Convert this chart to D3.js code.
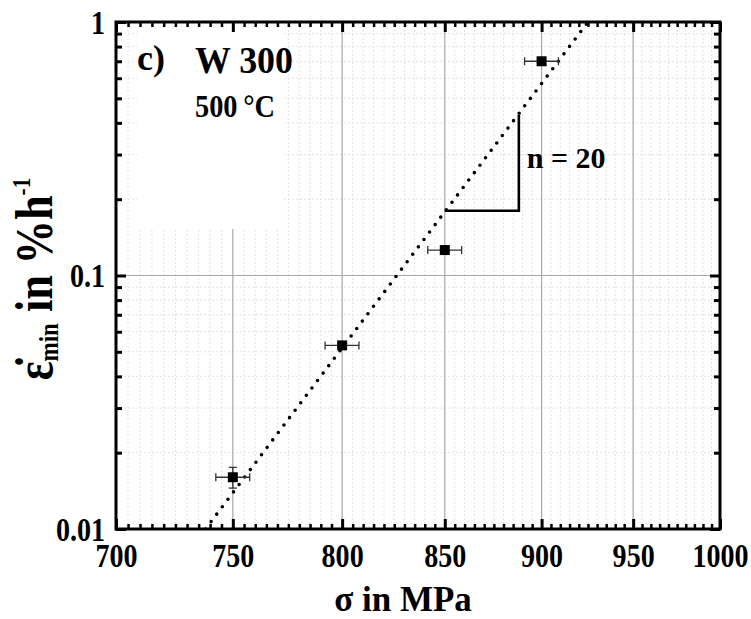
<!DOCTYPE html>
<html><head><meta charset="utf-8">
<script src="https://cdn.jsdelivr.net/npm/d3@7"></script>
<style>
body{margin:0;background:#fff}
text{font-family:"Liberation Serif","Times New Roman",serif;font-weight:bold;fill:#000}
</style>
</head><body>
<svg id="chart" width="751" height="619"></svg>
<script>
// ---- data ----
const stress = [750, 800, 850, 900];            // MPa
const rate = [0.016, 0.053, 0.126, 0.70];       // %/h
const stressErr = [7.5, 8, 8.5, 9];
const rateErr = [0.0015, 0.0015, 0.003, 0.015];
const fitStress = [738, 925];
const fitRate = [0.01, 1.0];
const slopeStress = [850, 888];
const slopeRate = [0.18, 0.43];
const xTicks = [700, 750, 800, 850, 900, 950, 1000];
const xTickLabels = ["700", "750", "800", "850", "900", "950", "1000"];
const yTicks = [0.01, 0.1, 1];
const yTickLabels = ["0.01", "0.1", "1"];
const xMinorTicks = [705,710,715,720,725,730,735,740,745,755,760,765,770,775,780,785,790,795,
  805,810,815,820,825,830,835,840,845,855,860,865,870,875,880,885,890,895,
  905,910,915,920,925,930,935,940,945,955,960,965,970,975,980,985,990,995];
const yMinorTicks = [0.02,0.03,0.04,0.05,0.06,0.07,0.08,0.09,0.2,0.3,0.4,0.5,0.6,0.7,0.8,0.9];

const W = 751, H = 619;
const m = {left:116, top:22, right:31, bottom:90};
const x = d3.scaleLog().domain([700, 1000]).range([m.left, W - m.right]);
const y = d3.scaleLog().domain([0.01, 1]).range([H - m.bottom, m.top]);
const x0 = x.range()[0], x1 = x.range()[1], y0 = y.range()[0], y1 = y.range()[1];

const svg = d3.select("#chart");
svg.append("defs").append("clipPath").attr("id","plot")
  .append("rect").attr("x",x0).attr("y",y1).attr("width",x1-x0).attr("height",y0-y1);

// minor grid (faint)
const grid = svg.append("g");
grid.selectAll(".gxm").data(xMinorTicks).join("line")
  .attr("x1",d=>x(d)).attr("x2",d=>x(d)).attr("y1",y1).attr("y2",y0)
  .attr("stroke","#e3e3e3").attr("stroke-width",1).attr("stroke-dasharray","2,2");
grid.selectAll(".gym").data(yMinorTicks).join("line")
  .attr("y1",d=>y(d)).attr("y2",d=>y(d)).attr("x1",x0).attr("x2",x1)
  .attr("stroke","#e3e3e3").attr("stroke-width",1).attr("stroke-dasharray","2,2");
// major grid
grid.selectAll(".gx").data(xTicks.slice(1,-1)).join("line")
  .attr("x1",d=>x(d)).attr("x2",d=>x(d)).attr("y1",y1).attr("y2",y0)
  .attr("stroke","#a8a8a8").attr("stroke-width",1.2);
grid.selectAll(".gy").data(yTicks.slice(1,-1)).join("line")
  .attr("y1",d=>y(d)).attr("y2",d=>y(d)).attr("x1",x0).attr("x2",x1)
  .attr("stroke","#a8a8a8").attr("stroke-width",1.2);

// white label box
svg.append("rect").attr("x",137).attr("y",y1+1).attr("width",145).attr("height",206).attr("fill","#fff");

// axes
function styleAxis(g){
  g.select(".domain").remove();
  g.selectAll(".tick line").attr("stroke","#000");
}
const bx = svg.append("g").attr("transform",`translate(0,${y0})`)
  .call(d3.axisBottom(x).tickValues(xTicks).tickFormat((d,i)=>xTickLabels[i]).tickSizeInner(-10).tickSizeOuter(0).tickPadding(15));
styleAxis(bx);
bx.selectAll(".tick line").attr("stroke-width",3);
svg.append("g").attr("transform",`translate(0,${y0})`)
  .call(d3.axisBottom(x).tickValues(xMinorTicks).tickFormat("").tickSizeInner(-5).tickSizeOuter(0))
  .call(styleAxis).selectAll(".tick line").attr("stroke-width",2.5);
svg.append("g").attr("transform",`translate(0,${y1})`)
  .call(d3.axisTop(x).tickValues(xTicks).tickFormat("").tickSizeInner(-10).tickSizeOuter(0))
  .call(styleAxis).selectAll(".tick line").attr("stroke-width",3);
svg.append("g").attr("transform",`translate(0,${y1})`)
  .call(d3.axisTop(x).tickValues(xMinorTicks).tickFormat("").tickSizeInner(-5).tickSizeOuter(0))
  .call(styleAxis).selectAll(".tick line").attr("stroke-width",2.5);

const ly = svg.append("g").attr("transform",`translate(${x0},0)`)
  .call(d3.axisLeft(y).tickValues(yTicks).tickFormat((d,i)=>yTickLabels[i]).tickSizeInner(-10).tickSizeOuter(0).tickPadding(11));
styleAxis(ly);
ly.selectAll(".tick line").attr("stroke-width",3);
svg.append("g").attr("transform",`translate(${x0},0)`)
  .call(d3.axisLeft(y).tickValues(yMinorTicks).tickFormat("").tickSizeInner(-6).tickSizeOuter(0))
  .call(styleAxis).selectAll(".tick line").attr("stroke-width",3);
svg.append("g").attr("transform",`translate(${x1},0)`)
  .call(d3.axisRight(y).tickValues(yTicks).tickFormat("").tickSizeInner(-10).tickSizeOuter(0))
  .call(styleAxis).selectAll(".tick line").attr("stroke-width",3);
svg.append("g").attr("transform",`translate(${x1},0)`)
  .call(d3.axisRight(y).tickValues(yMinorTicks).tickFormat("").tickSizeInner(-6).tickSizeOuter(0))
  .call(styleAxis).selectAll(".tick line").attr("stroke-width",3);

// tick labels: larger, slightly condensed
bx.selectAll(".tick text").style("font-size","33px").attr("dy",null).attr("y",null)
  .attr("transform","translate(0,38) scale(0.85,1)");
ly.selectAll(".tick text").style("font-size","33px").attr("x",null).attr("dy",null)
  .attr("transform","translate(-11,11) scale(0.85,1)");

// frame
svg.append("rect").attr("x",x0).attr("y",y1).attr("width",x1-x0).attr("height",y0-y1)
  .attr("fill","none").attr("stroke","#000").attr("stroke-width",3);

const plot = svg.append("g").attr("clip-path","url(#plot)");
// fit line (dotted)
const fit = fitStress.map((s,i)=>[s, fitRate[i]]);
plot.append("path").datum(fit)
  .attr("d", d3.line().x(d=>x(d[0])).y(d=>y(d[1])))
  .attr("fill","none").attr("stroke","#000").attr("stroke-width",3.6)
  .attr("stroke-linecap","round").attr("stroke-dasharray","0,9.3");

// slope triangle
svg.append("path")
  .datum([[slopeStress[0],slopeRate[0]],[slopeStress[1],slopeRate[0]],[slopeStress[1],slopeRate[1]]])
  .attr("d", d3.line().x(d=>x(d[0])).y(d=>y(d[1])))
  .attr("fill","none").attr("stroke","#000").attr("stroke-width",2.6);
svg.append("text").attr("x",x(slopeStress[1])+8).attr("y",168).style("font-size","30px").text("n = 20");

// error bars + markers
const pts = stress.map((s,i)=>({s, r:rate[i], es:stressErr[i], er:rateErr[i]}));
const eb = svg.append("g").attr("stroke","#333").attr("stroke-width",1.3);
pts.forEach(p=>{
  const cx=x(p.s), cy=y(p.r);
  eb.append("line").attr("x1",x(p.s-p.es)).attr("x2",x(p.s+p.es)).attr("y1",cy).attr("y2",cy);
  eb.append("line").attr("x1",x(p.s-p.es)).attr("x2",x(p.s-p.es)).attr("y1",cy-4).attr("y2",cy+4);
  eb.append("line").attr("x1",x(p.s+p.es)).attr("x2",x(p.s+p.es)).attr("y1",cy-4).attr("y2",cy+4);
  eb.append("line").attr("x1",cx).attr("x2",cx).attr("y1",y(p.r+p.er)).attr("y2",y(p.r-p.er));
  eb.append("line").attr("x1",cx-4).attr("x2",cx+4).attr("y1",y(p.r+p.er)).attr("y2",y(p.r+p.er));
  eb.append("line").attr("x1",cx-4).attr("x2",cx+4).attr("y1",y(p.r-p.er)).attr("y2",y(p.r-p.er));
});
svg.append("g").selectAll("rect").data(pts).join("rect")
  .attr("x",d=>x(d.s)-5).attr("y",d=>y(d.r)-5).attr("width",10).attr("height",10).attr("fill","#000");

// annotations
svg.append("text").attr("x",137).attr("y",70).style("font-size","36px").text("c)");
svg.append("text").attr("x",195).attr("y",73).style("font-size","37px").attr("textLength",98).attr("lengthAdjust","spacingAndGlyphs").text("W 300");
svg.append("text").attr("x",195).attr("y",117).style("font-size","31px").attr("textLength",80).attr("lengthAdjust","spacingAndGlyphs").text("500\u2009°C");

// axis titles
svg.append("text").attr("x",403).attr("y",611).attr("text-anchor","middle").style("font-size","35px").text("σ in MPa");
const yt = svg.append("text").attr("transform","translate(52,279) rotate(-90) scale(0.85,1)").attr("text-anchor","middle").style("font-size","52px");
yt.append("tspan").text("ε\u0307");
yt.append("tspan").attr("dy",6).style("font-size","27px").text("min");
yt.append("tspan").attr("dy",-6).text(" in %h");
yt.append("tspan").attr("dy",-22).style("font-size","25px").text("-1");
</script>
</body></html>
